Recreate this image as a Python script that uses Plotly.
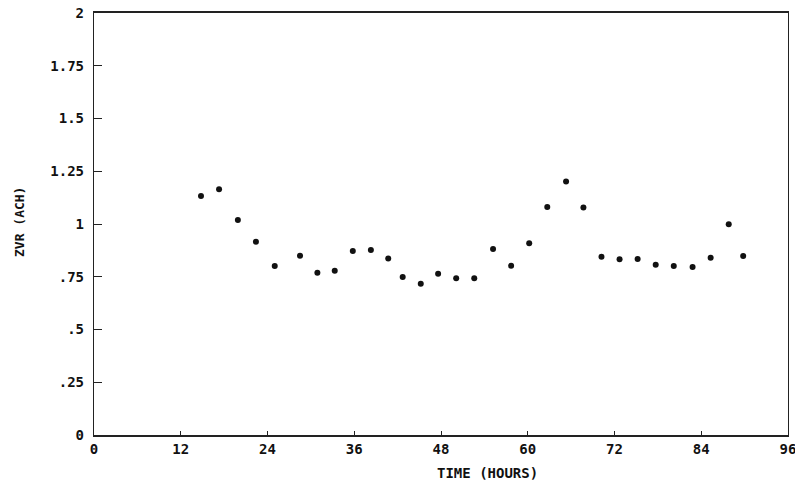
import plotly.graph_objects as go

hours = [14.8, 17.3, 19.9, 22.4, 25.0, 28.5, 30.9, 33.3, 35.8, 38.3, 40.7,
         42.7, 45.2, 47.6, 50.1, 52.6, 55.2, 57.7, 60.2, 62.7, 65.3, 67.7,
         70.2, 72.7, 75.2, 77.7, 80.2, 82.8, 85.3, 87.8, 89.8]
zvr = [1.133, 1.165, 1.019, 0.916, 0.801, 0.850, 0.769, 0.779, 0.872, 0.877,
       0.836, 0.749, 0.717, 0.764, 0.743, 0.743, 0.882, 0.802, 0.909, 1.080,
       1.201, 1.078, 0.845, 0.833, 0.834, 0.807, 0.801, 0.796, 0.840, 0.999,
       0.848]

x_ticks = [0, 12, 24, 36, 48, 60, 72, 84, 96]
x_ticklabels = ["0", "12", "24", "36", "48", "60", "72", "84", "96"]
y_ticks = [0, 0.25, 0.5, 0.75, 1, 1.25, 1.5, 1.75, 2]
y_ticklabels = ["0", ".25", ".5", ".75", "1", "1.25", "1.5", "1.75", "2"]

font_family = "DejaVu Sans Mono"

W, H = 795, 486
L, R, T, B = 94, 7, 13, 51
plot_w = W - L - R
plot_h = H - T - B

fig = go.Figure()
fig.add_trace(go.Scatter(
    x=hours, y=zvr, mode="markers",
    marker=dict(color="#111111", size=6, symbol="circle"),
    showlegend=False,
))

fig.update_layout(
    width=W, height=H,
    margin=dict(l=L, r=R, t=T, b=B),
    paper_bgcolor="white", plot_bgcolor="white",
    font=dict(family=font_family, size=14, color="#111111", weight="bold"),
    xaxis=dict(
        range=[0, 96], tickvals=x_ticks, ticktext=x_ticklabels,
        showgrid=False, zeroline=False, showline=True, linecolor="#222222",
        linewidth=1.6, mirror=True, ticks="inside", ticklen=4, tickwidth=1,
        tickcolor="#222222", automargin=False, ticklabeloverflow="allow",
        tickfont=dict(family=font_family, size=14, weight="bold"),
    ),
    yaxis=dict(
        range=[0, 2], tickvals=y_ticks, ticktext=y_ticklabels,
        showgrid=False, zeroline=False, showline=True, linecolor="#222222",
        linewidth=1.4, mirror=True, ticks="inside", ticklen=8, tickwidth=1.4,
        tickcolor="#222222", ticklabelstandoff=6, automargin=False,
        ticklabeloverflow="allow",
        tickfont=dict(family=font_family, size=14, weight="bold"),
    ),
    annotations=[
        dict(text="TIME (HOURS)", showarrow=False, xref="paper", yref="paper",
             x=(487 - L) / plot_w, y=-(473 - (H - B)) / plot_h,
             xanchor="center", yanchor="middle",
             font=dict(family=font_family, size=14, weight="bold")),
        dict(text="ZVR (ACH)", textangle=-90, showarrow=False,
             xref="paper", yref="paper",
             x=-(L - 20) / plot_w, y=((H - B) - 222) / plot_h,
             xanchor="center", yanchor="middle",
             font=dict(family=font_family, size=13, weight="bold")),
    ],
)

fig.write_html("out.html",
               config={"displayModeBar": False},
               post_script="document.body.style.margin='0';document.body.style.overflow='hidden';")
